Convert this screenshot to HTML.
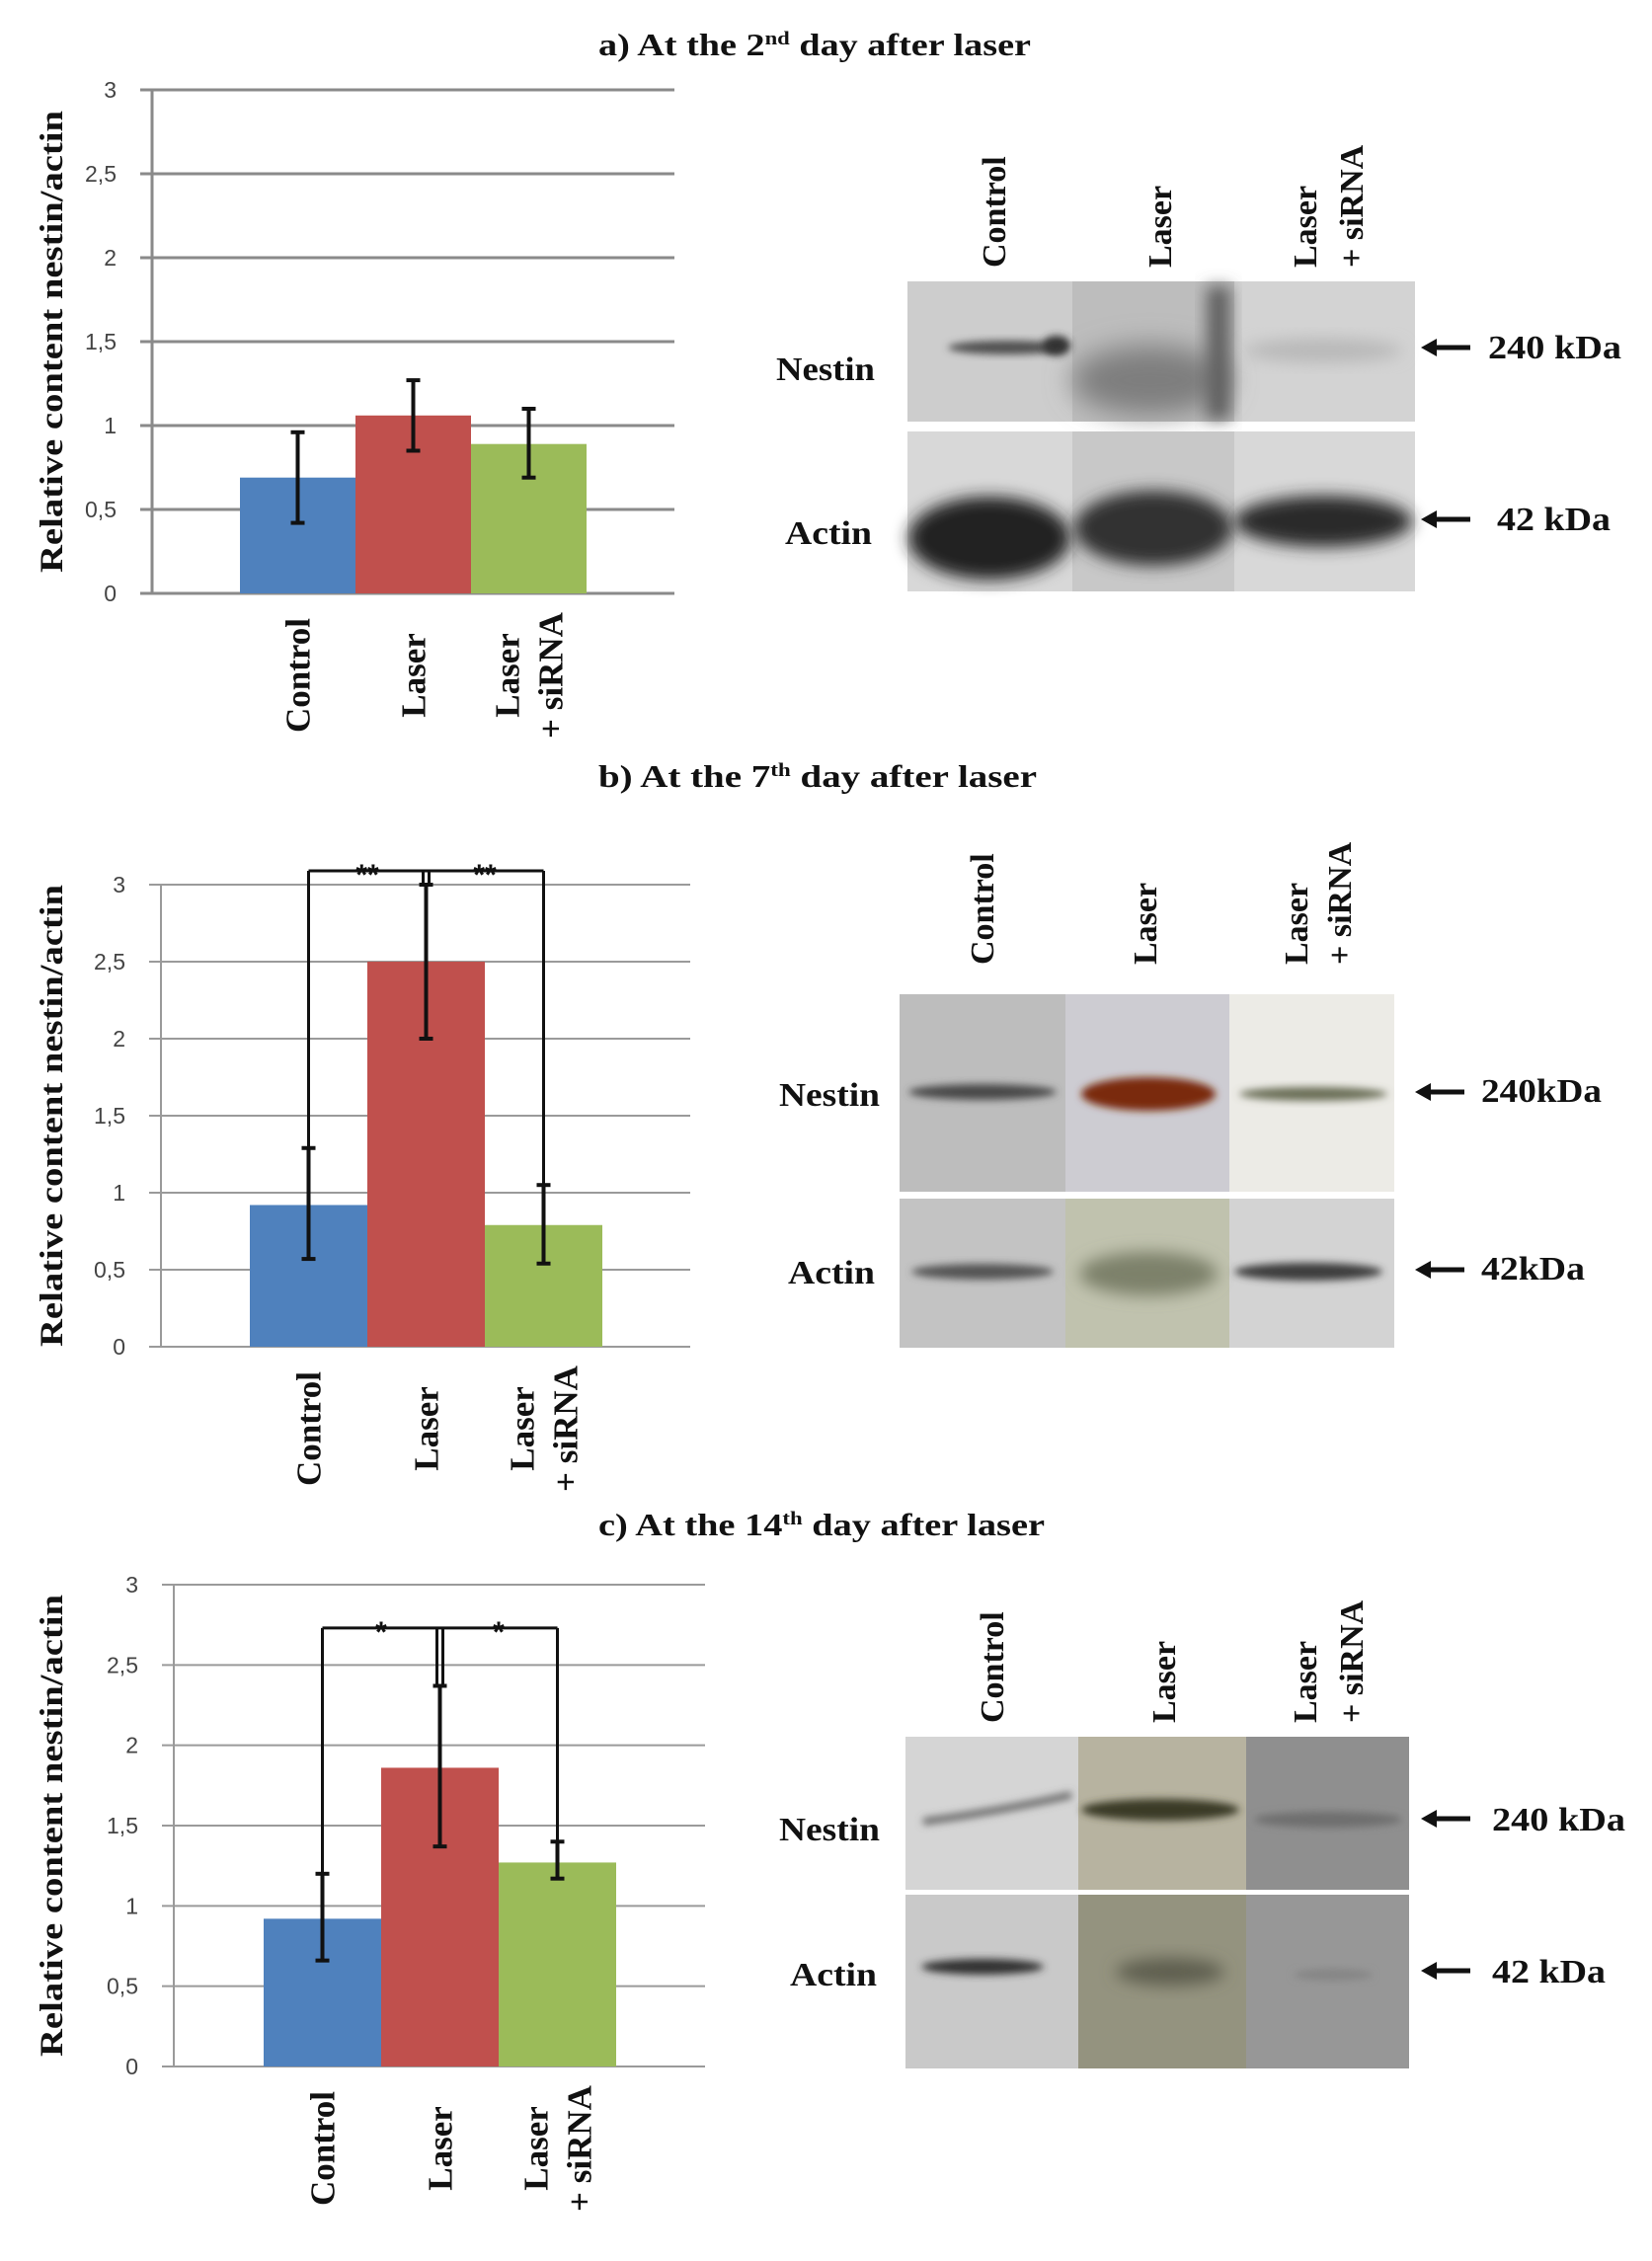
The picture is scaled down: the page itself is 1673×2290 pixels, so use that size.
<!DOCTYPE html>
<html><head><meta charset="utf-8">
<style>
html,body{margin:0;padding:0;background:#fff;}
svg{display:block;}
.ttl{font-family:"Liberation Serif",serif;font-weight:bold;font-size:32px;fill:#111;}
.tick{font-family:"Liberation Sans",sans-serif;font-size:23px;fill:#444;}
.cat{font-family:"Liberation Serif",serif;font-weight:bold;font-size:35px;fill:#111;}
.ytl{font-family:"Liberation Serif",serif;font-weight:bold;font-size:33px;fill:#111;}
.bl{font-family:"Liberation Serif",serif;font-weight:bold;font-size:34px;fill:#111;}
.star{font-family:"Liberation Sans",sans-serif;font-weight:bold;font-size:30px;fill:#111;}
</style></head>
<body>
<svg id="fig" width="1673" height="2290" viewBox="0 0 1673 2290" xmlns="http://www.w3.org/2000/svg">
<defs>
<filter id="blur8" x="-50%" y="-50%" width="200%" height="200%"><feGaussianBlur stdDeviation="8"/></filter>
<filter id="blur4" x="-50%" y="-50%" width="200%" height="200%"><feGaussianBlur stdDeviation="4"/></filter>
<filter id="blur14" x="-50%" y="-50%" width="200%" height="200%"><feGaussianBlur stdDeviation="14"/></filter>
</defs>

<!-- Titles -->
<text class="ttl" x="606" y="56" textLength="438" lengthAdjust="spacingAndGlyphs">a) At the 2<tspan font-size="19" dy="-11">nd</tspan><tspan dy="11"> day after laser</tspan></text>
<text class="ttl" x="606" y="797" textLength="444" lengthAdjust="spacingAndGlyphs">b) At the 7<tspan font-size="19" dy="-11">th</tspan><tspan dy="11"> day after laser</tspan></text>
<text class="ttl" x="606" y="1555" textLength="452" lengthAdjust="spacingAndGlyphs">c) At the 14<tspan font-size="19" dy="-11">th</tspan><tspan dy="11"> day after laser</tspan></text>

<g id="charts"></g>

<!-- ===== Blot a ===== -->
<g>
  <rect x="919" y="285" width="167" height="142" fill="#cdcdcd"/>
  <rect x="1086" y="285" width="164" height="142" fill="#bdbdbd"/>
  <rect x="1250" y="285" width="183" height="142" fill="#d3d3d3"/>
  <ellipse cx="1020" cy="352" rx="60" ry="7" fill="#505050" filter="url(#blur4)"/>
  <ellipse cx="1070" cy="350" rx="14" ry="10" fill="#303030" filter="url(#blur4)"/>
  <ellipse cx="1165" cy="385" rx="80" ry="35" fill="#7e7e7e" filter="url(#blur14)"/>
  <rect x="1222" y="290" width="24" height="135" fill="#606060" filter="url(#blur8)"/>
  <ellipse cx="1340" cy="355" rx="80" ry="12" fill="#b8b8b8" filter="url(#blur8)"/>
  <rect x="919" y="437" width="514" height="162" fill="#d8d8d8"/>
  <rect x="1086" y="437" width="164" height="162" fill="#c8c8c8"/>
  <ellipse cx="1002" cy="545" rx="82" ry="42" fill="#222" filter="url(#blur8)"/>
  <ellipse cx="1168" cy="535" rx="80" ry="38" fill="#333" filter="url(#blur8)"/>
  <ellipse cx="1340" cy="528" rx="90" ry="26" fill="#2a2a2a" filter="url(#blur8)"/>
  <text class="bl" x="786" y="385" textLength="100" lengthAdjust="spacingAndGlyphs">Nestin</text>
  <text class="bl" x="795" y="551" textLength="88" lengthAdjust="spacingAndGlyphs">Actin</text>
  <text class="bl" x="1507" y="363" textLength="135" lengthAdjust="spacingAndGlyphs">240 kDa</text>
  <text class="bl" x="1516" y="537" textLength="115" lengthAdjust="spacingAndGlyphs">42 kDa</text>
</g>

<!-- ===== Blot b ===== -->
<g>
  <rect x="911" y="1007" width="168" height="200" fill="#bdbdbd"/>
  <rect x="1079" y="1007" width="166" height="200" fill="#cdccd2"/>
  <rect x="1245" y="1007" width="167" height="200" fill="#ecebe6"/>
  <ellipse cx="995" cy="1106" rx="75" ry="8" fill="#4a4a4a" filter="url(#blur4)"/>
  <ellipse cx="1163" cy="1108" rx="68" ry="17" fill="#7a2a10" filter="url(#blur4)"/>
  <ellipse cx="1330" cy="1108" rx="75" ry="7" fill="#6c7058" filter="url(#blur4)"/>
  <rect x="911" y="1214" width="168" height="151" fill="#c3c3c3"/>
  <rect x="1079" y="1214" width="166" height="151" fill="#c0c2ae"/>
  <rect x="1245" y="1214" width="167" height="151" fill="#d3d3d3"/>
  <ellipse cx="995" cy="1288" rx="72" ry="8" fill="#555" filter="url(#blur4)"/>
  <ellipse cx="1163" cy="1290" rx="70" ry="22" fill="#7d816a" filter="url(#blur8)"/>
  <ellipse cx="1325" cy="1288" rx="75" ry="9" fill="#3e3e3e" filter="url(#blur4)"/>
  <text class="bl" x="789" y="1120" textLength="102" lengthAdjust="spacingAndGlyphs">Nestin</text>
  <text class="bl" x="798" y="1300" textLength="88" lengthAdjust="spacingAndGlyphs">Actin</text>
  <text class="bl" x="1500" y="1116" textLength="122" lengthAdjust="spacingAndGlyphs">240kDa</text>
  <text class="bl" x="1500" y="1296" textLength="105" lengthAdjust="spacingAndGlyphs">42kDa</text>
</g>

<!-- ===== Blot c ===== -->
<g>
  <rect x="917" y="1759" width="175" height="155" fill="#d5d5d5"/>
  <rect x="1092" y="1759" width="170" height="155" fill="#b7b3a0"/>
  <rect x="1262" y="1759" width="165" height="155" fill="#8f8f8f"/>
  <path d="M935 1845 Q1010 1835 1085 1818" stroke="#666" stroke-width="7" fill="none" filter="url(#blur4)"/>
  <ellipse cx="1175" cy="1833" rx="80" ry="11" fill="#3a3a28" filter="url(#blur4)"/>
  <ellipse cx="1345" cy="1843" rx="75" ry="8" fill="#6e6e6e" filter="url(#blur4)"/>
  <rect x="917" y="1919" width="175" height="176" fill="#c9c9c9"/>
  <rect x="1092" y="1919" width="170" height="176" fill="#94937f"/>
  <rect x="1262" y="1919" width="165" height="176" fill="#979797"/>
  <ellipse cx="995" cy="1992" rx="62" ry="8" fill="#333" filter="url(#blur4)"/>
  <ellipse cx="1185" cy="1997" rx="55" ry="14" fill="#5e5e50" filter="url(#blur8)"/>
  <ellipse cx="1350" cy="2000" rx="40" ry="6" fill="#858585" filter="url(#blur4)"/>
  <text class="bl" x="789" y="1864" textLength="102" lengthAdjust="spacingAndGlyphs">Nestin</text>
  <text class="bl" x="800" y="2011" textLength="88" lengthAdjust="spacingAndGlyphs">Actin</text>
  <text class="bl" x="1511" y="1854" textLength="135" lengthAdjust="spacingAndGlyphs">240 kDa</text>
  <text class="bl" x="1511" y="2008" textLength="115" lengthAdjust="spacingAndGlyphs">42 kDa</text>
</g>
<g id="blotlabels"></g>
</svg>

<script>
// ---- Chart data ----
const categories = ["Control", "Laser", "Laser + siRNA"];
const ticks = [0, 0.5, 1, 1.5, 2, 2.5, 3];
const tickLabels = ["0", "0,5", "1", "1,5", "2", "2,5", "3"];
const valuesA = [0.69, 1.06, 0.89];
const errLowA = [0.42, 0.85, 0.69];
const errHighA = [0.96, 1.27, 1.10];
const valuesB = [0.92, 2.50, 0.79];
const errLowB = [0.57, 2.00, 0.54];
const errHighB = [1.29, 3.00, 1.05];
const valuesC = [0.92, 1.86, 1.27];
const errLowC = [0.66, 1.37, 1.17];
const errHighC = [1.20, 2.37, 1.40];
const sigB = ["**", "**"];
const sigC = ["*", "*"];
const bracketB = 3.09;
const bracketC = 2.73;

const NS = "http://www.w3.org/2000/svg";
const colors = ["#4f81bd", "#c0504d", "#9bbb59"];
const root = document.getElementById("charts");
function mk(tag, attrs, parent) {
  const e = document.createElementNS(NS, tag);
  for (const k in attrs) e.setAttribute(k, attrs[k]);
  (parent || root).appendChild(e);
  return e;
}

function drawChart(id, L, vals, lo, hi, sig, bracket) {
  const g = mk("g", {});
  
  
  const y = v => L.y0 - (v / 3) * (L.y0 - L.y3);
  ticks.forEach((t, i) => {
    const gl = mk("line", {x1: L.ax - 12, x2: L.right, y1: y(t), y2: y(t), stroke: L.grid, "stroke-width": L.gw}, g);
    
    
    const tl = mk("text", {x: L.ax - 36, y: y(t) + 8, "text-anchor": "end", class: "tick"}, g);
    tl.textContent = tickLabels[i];
    
    
  });
  const axis = mk("line", {x1: L.ax, x2: L.ax, y1: L.y3, y2: L.y0, stroke: L.grid, "stroke-width": L.gw}, g);
  
  
  const cx = i => L.bx + L.bw * (i + 0.5);
  vals.forEach((v, i) => {
    const r = mk("rect", {x: L.bx + L.bw * i, y: y(v), width: L.bw, height: L.y0 - y(v), fill: colors[i]}, g);
    
    
  });
  if (sig) {
    const by = y(bracket);
    const bg = mk("g", {stroke: "#111", "stroke-width": 3, fill: "none"}, g);
    
    
    mk("line", {x1: cx(0), x2: cx(2), y1: by, y2: by}, bg);
    mk("line", {x1: cx(0), x2: cx(0), y1: by, y2: y(hi[0])}, bg);
    mk("line", {x1: cx(2), x2: cx(2), y1: by, y2: y(hi[2])}, bg);
    mk("line", {x1: cx(1) - 3, x2: cx(1) - 3, y1: by, y2: y(hi[1])}, bg);
    mk("line", {x1: cx(1) + 3, x2: cx(1) + 3, y1: by, y2: y(hi[1])}, bg);
    sig.forEach((s, k) => {
      const st = mk("text", {x: (cx(k) + cx(k + 1)) / 2, y: by + 14, "text-anchor": "middle", class: "star"}, g);
      st.textContent = s;
      
      
    });
  }
  vals.forEach((v, i) => {
    const eg = mk("g", {stroke: "#111", "stroke-width": 4}, g);
    
    
    mk("line", {x1: cx(i), x2: cx(i), y1: y(lo[i]), y2: y(hi[i])}, eg);
    mk("line", {x1: cx(i) - 7, x2: cx(i) + 7, y1: y(lo[i]), y2: y(lo[i])}, eg);
    mk("line", {x1: cx(i) - 7, x2: cx(i) + 7, y1: y(hi[i]), y2: y(hi[i])}, eg);
  });
  const cy = L.y0 + 83;
  const lab = (txt, x, name) => {
    const t = mk("text", {transform: `translate(${x},${cy}) rotate(-90)`, "text-anchor": "middle", class: "cat"}, g);
    t.textContent = txt;
    
    
  };
  lab("Control", cx(0) + 12, "x-label-control");
  lab("Laser", cx(1) + 12, "x-label-laser");
  lab("Laser", cx(2) - 10, "x-label-laser-sirna");
  lab("+ siRNA", cx(2) + 34, "x-label-laser-sirna-2");
  const yt = mk("text", {transform: `translate(63,${(L.y0 + L.y3) / 2}) rotate(-90)`, "text-anchor": "middle", class: "ytl", textLength: 468, lengthAdjust: "spacingAndGlyphs"}, g);
  yt.textContent = "Relative  content nestin/actin";
  
  
}

drawChart("a", {ax: 154, right: 683, y0: 601, y3: 91, bx: 243, bw: 117, grid: "#8a8a8a", gw: 3}, valuesA, errLowA, errHighA, null, 0);
drawChart("b", {ax: 163, right: 699, y0: 1364, y3: 896, bx: 253, bw: 119, grid: "#9a9a9a", gw: 2}, valuesB, errLowB, errHighB, sigB, bracketB);
drawChart("c", {ax: 176, right: 714, y0: 2093, y3: 1605, bx: 267, bw: 119, grid: "#9a9a9a", gw: 2}, valuesC, errLowC, errHighC, sigC, bracketC);

const blotCols = [
  {bottom: 271, xs: [1007, 1175, 1322, 1369], arrows: [352, 526], ax: 1439},
  {bottom: 977, xs: [995, 1160, 1313, 1357], arrows: [1106, 1286], ax: 1433},
  {bottom: 1745, xs: [1005, 1179, 1322, 1369], arrows: [1842, 1996], ax: 1439}
];
const colTexts = ["Control", "Laser", "Laser", "+ siRNA"];
const bl = document.getElementById("blotlabels");
blotCols.forEach((b, k) => {
  b.xs.forEach((x, i) => {
    const t = mk("text", {transform: `translate(${x + 11},${b.bottom}) rotate(-90)`, "text-anchor": "start", class: "bl"}, bl);
    t.textContent = colTexts[i];
    
    
  });
  b.arrows.forEach(ay => {
    const a = mk("g", {}, bl);
    
    
    mk("line", {x1: b.ax + 14, x2: b.ax + 50, y1: ay, y2: ay, stroke: "#111", "stroke-width": 5}, a);
    mk("polygon", {points: `${b.ax},${ay} ${b.ax + 16},${ay - 9} ${b.ax + 16},${ay + 9}`, fill: "#111"}, a);
  });
});
</script>
</body></html>
